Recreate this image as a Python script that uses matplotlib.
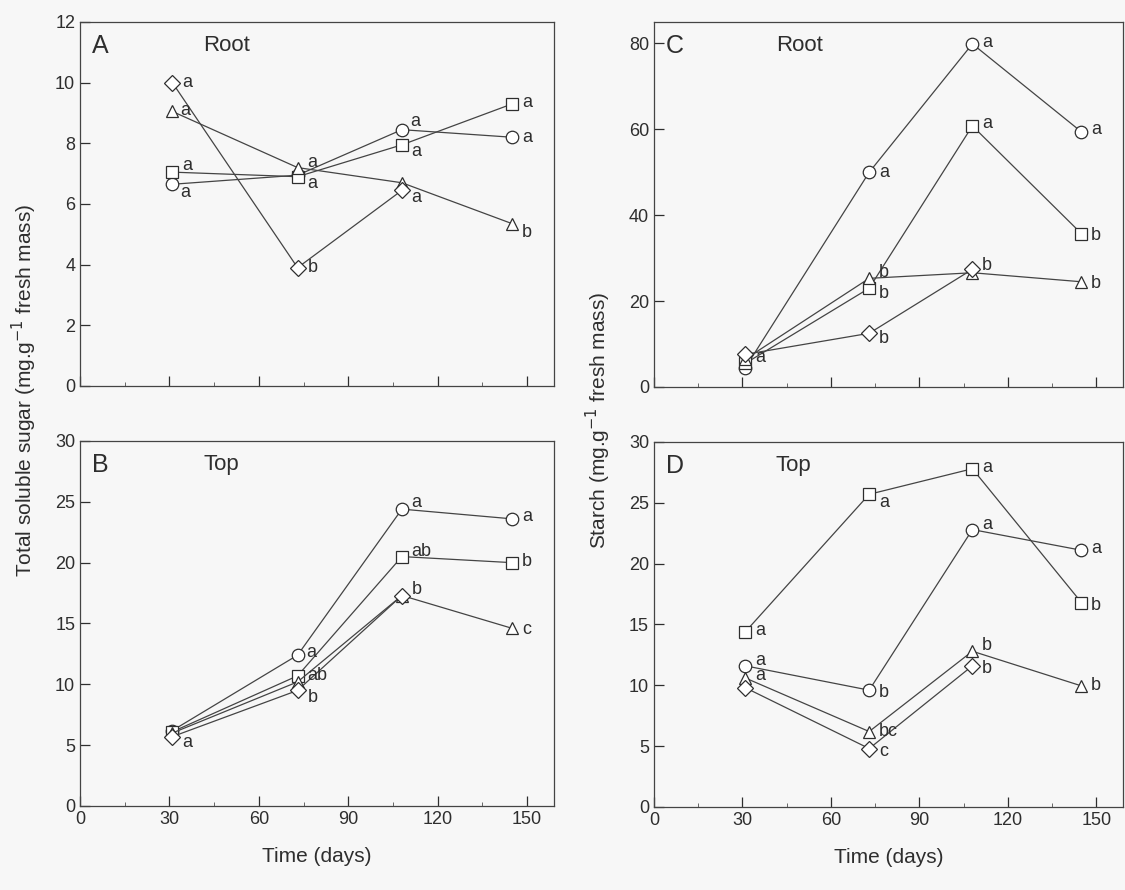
import matplotlib
matplotlib.use("Agg")
import matplotlib.pyplot as plt
from matplotlib.ticker import MultipleLocator

plt.rcParams['font.family'] = ['Liberation Sans', 'DejaVu Sans']

# sampling days
days = [31, 73, 108, 145]
days_diamond = [31, 73, 108]

# A: root, total soluble sugar
a_circle = [6.65, 6.95, 8.45, 8.2]
a_square = [7.05, 6.9, 7.95, 9.3]
a_triangle = [9.05, 7.2, 6.7, 5.35]
a_diamond = [10.0, 3.9, 6.45]
a_circle_lbl = ["a", "", "a", "a"]
a_square_lbl = ["a", "a", "a", "a"]
a_triangle_lbl = ["a", "a", "", "b"]
a_diamond_lbl = ["a", "b", "a"]

# B: top, total soluble sugar
b_circle = [6.2, 12.4, 24.4, 23.6]
b_square = [6.1, 10.7, 20.5, 20.0]
b_triangle = [6.0, 10.2, 17.3, 14.6]
b_diamond = [5.7, 9.5, 17.3]
b_circle_lbl = ["", "a", "a", "a"]
b_square_lbl = ["", "ab", "ab", "b"]
b_triangle_lbl = ["", "", "", "c"]
b_diamond_lbl = ["a", "b", "b"]

# C: root, starch
c_circle = [4.5, 50.0, 79.9, 59.4]
c_square = [5.5, 23.0, 60.8, 35.7]
c_triangle = [6.5, 25.3, 26.6, 24.5]
c_diamond = [7.6, 12.5, 27.4]
c_circle_lbl = ["", "a", "a", "a"]
c_square_lbl = ["", "b", "a", "b"]
c_triangle_lbl = ["", "b", "", "b"]
c_diamond_lbl = ["a", "b", "b"]

# D: top, starch
d_circle = [11.6, 9.6, 22.8, 21.1]
d_square = [14.4, 25.7, 27.8, 16.8]
d_triangle = [10.6, 6.2, 12.8, 9.95]
d_diamond = [9.8, 4.8, 11.6]
d_circle_lbl = ["a", "b", "a", "a"]
d_square_lbl = ["a", "a", "a", "b"]
d_triangle_lbl = ["a", "bc", "b", "b"]
d_diamond_lbl = ["", "c", "b"]

panels = {
    "A": ("Root", 12, 2, [
        ("o", days, a_circle, a_circle_lbl, [(4, -6), None, (4, 6), (5, 0)]),
        ("s", days, a_square, a_square_lbl, [(5, 5), (5, -5), (5, -5), (5, 1)]),
        ("^", days, a_triangle, a_triangle_lbl, [(4, 1), (5, 4), None, (5, -6)]),
        ("D", days_diamond, a_diamond, a_diamond_lbl, [(5, 0), (5, 0), (5, -5)]),
    ]),
    "B": ("Top", 30, 5, [
        ("o", days, b_circle, b_circle_lbl, [None, (4, 2), (5, 5), (5, 2)]),
        ("s", days, b_square, b_square_lbl, [None, (5, 0), (5, 4), (5, 1)]),
        ("^", days, b_triangle, b_triangle_lbl, [None, None, None, (5, -1)]),
        ("D", days_diamond, b_diamond, b_diamond_lbl, [(5, -4), (5, -5), (5, 4)]),
    ]),
    "C": ("Root", 85, 20, [
        ("o", days, c_circle, c_circle_lbl, [None, (5, 0), (5, 1), (5, 2)]),
        ("s", days, c_square, c_square_lbl, [None, (5, -4), (5, 2), (5, -1)]),
        ("^", days, c_triangle, c_triangle_lbl, [None, (5, 4), None, (5, -1)]),
        ("D", days_diamond, c_diamond, c_diamond_lbl, [(5, -2), (5, -4), (5, 3)]),
    ]),
    "D": ("Top", 30, 5, [
        ("o", days, d_circle, d_circle_lbl, [(5, 4), (5, -2), (5, 4), (5, 1)]),
        ("s", days, d_square, d_square_lbl, [(5, 1), (5, -6), (5, 1), (5, -2)]),
        ("^", days, d_triangle, d_triangle_lbl, [(5, 2), (5, 0), (5, 4), (5, 0)]),
        ("D", days_diamond, d_diamond, d_diamond_lbl, [None, (5, -2), (5, -2)]),
    ]),
}

boxes = {
    "A": [0.0711, 0.5663, 0.4213, 0.409],
    "B": [0.0711, 0.0944, 0.4213, 0.4101],
    "C": [0.5813, 0.5652, 0.4167, 0.4101],
    "D": [0.5813, 0.0933, 0.4167, 0.4101],
}

bg = "#f7f7f7"
ink = "#2e2e2e"
fig = plt.figure(figsize=(11.25, 8.9), dpi=100, facecolor=bg)

for name, (part, ymax, ystep, series) in panels.items():
    ax = fig.add_axes(boxes[name])
    ax.set_facecolor(bg)
    for marker, xs, ys, lbls, offs in series:
        ms = 8.5 if marker == "D" else 9
        ax.plot(xs, ys, color="#444444", lw=0.9, marker=marker, ms=ms,
                mfc="white", mec=ink, mew=0.9, zorder=3)
        for x, y, t, off in zip(xs, ys, lbls, offs):
            if t and off:
                ax.annotate(t, (x, y), xytext=(off[0] + 2, off[1]),
                            textcoords="offset points", ha="left",
                            va="center", fontsize=13, color=ink,
                            zorder=4)
    ax.set_xlim(0, 159)
    ax.set_ylim(0, ymax)
    ax.xaxis.set_major_locator(MultipleLocator(30))
    ax.xaxis.set_minor_locator(MultipleLocator(15))
    ax.yaxis.set_major_locator(MultipleLocator(ystep))
    ax.tick_params(which="major", direction="in", length=7, width=0.9,
                   labelsize=13, colors=ink)
    ax.tick_params(which="minor", direction="in", length=3, width=0.7,
                   colors="#666666")
    for sp in ax.spines.values():
        sp.set_color("#444444")
        sp.set_linewidth(0.9)
    if name in ("A", "C"):
        ax.tick_params(axis="x", labelbottom=False)
    else:
        ax.set_xlabel("Time (days)", fontsize=15, color=ink, labelpad=14)
    ax.text(0.025, 0.935, name, transform=ax.transAxes, fontsize=18,
            va="center", ha="left", color=ink)
    ax.text(0.26, 0.935, part, transform=ax.transAxes, fontsize=16,
            va="center", ha="left", color=ink)

fig.text(0.022, 0.561, "Total soluble sugar (mg.g$^{-1}$ fresh mass)",
         rotation=90, ha="center", va="center", fontsize=15, color=ink)
fig.text(0.532, 0.528, "Starch (mg.g$^{-1}$ fresh mass)",
         rotation=90, ha="center", va="center", fontsize=15, color=ink)

fig.savefig("out.png", dpi=100, facecolor=bg)
